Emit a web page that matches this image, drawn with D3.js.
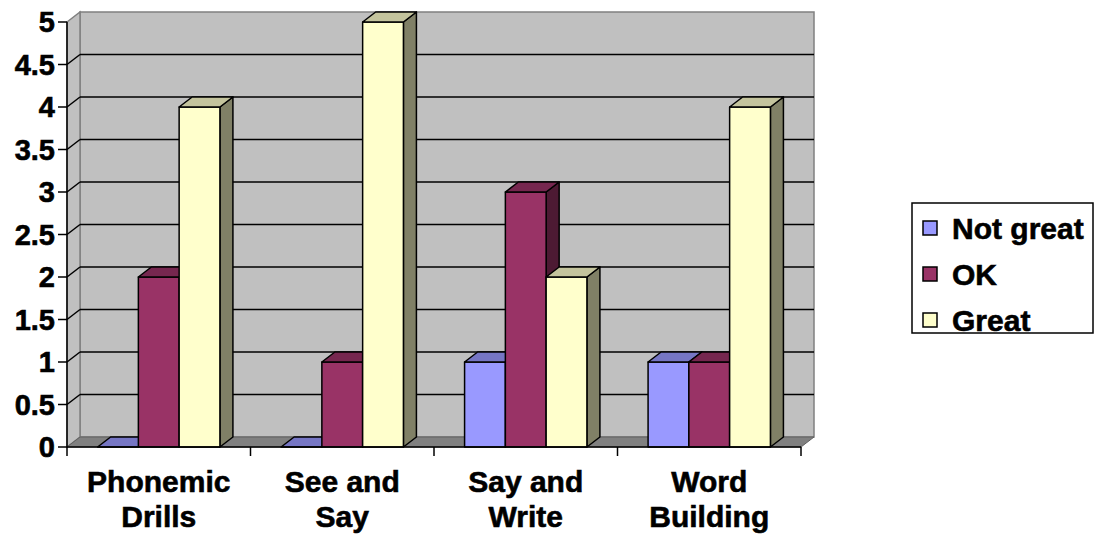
<!DOCTYPE html>
<html>
<head>
<meta charset="utf-8">
<script src="https://cdn.jsdelivr.net/npm/d3@7/dist/d3.min.js"></script>
<style>
  html, body { margin: 0; padding: 0; background: #fff; }
  svg { display: block; font-family: "Liberation Sans", Arial, sans-serif; font-weight: bold; }
  text { fill: #000; stroke: #000; stroke-width: 0.6px; }
</style>
</head>
<body>
<svg id="chart" width="1098" height="538"></svg>
<script>
// data
const categories = ['Phonemic Drills', 'See and Say', 'Say and Write', 'Word Building'];
const categoryLines = [['Phonemic', 'Drills'], ['See and', 'Say'], ['Say and', 'Write'], ['Word', 'Building']];
const seriesNames = ['Not great', 'OK', 'Great'];
const notGreat = [0, 0, 1, 1];
const ok = [2, 1, 3, 1];
const great = [4, 5, 2, 4];
const yTicks = [0, 0.5, 1, 1.5, 2, 2.5, 3, 3.5, 4, 4.5, 5];
const seriesColors = ['#9999FF', '#993366', '#FFFFCC'];

const seriesValues = [notGreat, ok, great];

const svg = d3.select('#chart');

// layout of the 3d box
const plotLeft = 67, plotRight = 801, plotTop = 22, plotBottom = 447;
const dx = 13, dy = -10;

const xScale = d3.scaleBand()
  .domain(categories)
  .range([plotLeft, plotRight])
  .paddingInner(0)
  .paddingOuter(0);

const xInner = d3.scaleBand()
  .domain(seriesNames)
  .range([0, xScale.bandwidth()])
  .paddingInner(0)
  .paddingOuter(0.75);

const yScale = d3.scaleLinear()
  .domain([0, 5])
  .range([plotBottom, plotTop]);

const shade = (c, k) => {
  const r = d3.rgb(c);
  return d3.rgb(r.r * k, r.g * k, r.b * k).formatHex();
};
const pts = arr => arr.map(p => p.join(',')).join(' ');

// walls
const g = svg.append('g');

// back wall
g.append('rect')
  .attr('x', plotLeft + dx).attr('y', plotTop + dy)
  .attr('width', plotRight - plotLeft).attr('height', plotBottom - plotTop)
  .attr('fill', '#C0C0C0')
  .attr('stroke', '#808080').attr('stroke-width', 1.5);

// side wall
g.append('polygon')
  .attr('points', pts([[plotLeft, plotTop], [plotLeft + dx, plotTop + dy], [plotLeft + dx, plotBottom + dy], [plotLeft, plotBottom]]))
  .attr('fill', '#C0C0C0')
  .attr('stroke', '#808080').attr('stroke-width', 1.5);

// floor
g.append('polygon')
  .attr('points', pts([[plotLeft, plotBottom], [plotLeft + dx, plotBottom + dy], [plotRight + dx, plotBottom + dy], [plotRight, plotBottom]]))
  .attr('fill', '#808080')
  .attr('stroke', '#606060').attr('stroke-width', 1);

// gridlines (back wall + side wall)
const grid = yTicks.filter(d => d > 0 && d < 5);
g.selectAll('.grid-back')
  .data(grid)
  .enter().append('line')
  .attr('class', 'grid-back')
  .attr('x1', plotLeft + dx).attr('x2', plotRight + dx)
  .attr('y1', d => yScale(d) + dy).attr('y2', d => yScale(d) + dy)
  .attr('stroke', '#000').attr('stroke-width', 1.5);

g.selectAll('.grid-side')
  .data(grid)
  .enter().append('line')
  .attr('class', 'grid-side')
  .attr('x1', plotLeft).attr('x2', plotLeft + dx)
  .attr('y1', d => yScale(d)).attr('y2', d => yScale(d) + dy)
  .attr('stroke', '#000').attr('stroke-width', 1.5);

// bars
const bars = svg.append('g');
categories.forEach((cat, i) => {
  seriesNames.forEach((s, j) => {
    const v = seriesValues[j][i];
    const x0 = xScale(cat) + xInner(s);
    const x1 = x0 + xInner.bandwidth();
    const y0 = yScale(0);
    const y1 = yScale(v);
    const col = seriesColors[j];
    const b = bars.append('g')
      .attr('stroke', '#000')
      .attr('stroke-width', 1.5)
      .attr('stroke-linejoin', 'round');
    if (v > 0) {
      b.append('polygon')
        .attr('points', pts([[x1, y1], [x1 + dx, y1 + dy], [x1 + dx, y0 + dy], [x1, y0]]))
        .attr('fill', shade(col, 0.5));
      b.append('rect')
        .attr('x', x0).attr('y', y1)
        .attr('width', x1 - x0).attr('height', y0 - y1)
        .attr('fill', col);
    }
    b.append('polygon')
      .attr('points', pts([[x0, y1], [x0 + dx, y1 + dy], [x1 + dx, y1 + dy], [x1, y1]]))
      .attr('fill', shade(col, 0.77));
  });
});

// axes
const axisG = svg.append('g');
axisG.append('line')
  .attr('x1', plotLeft).attr('x2', plotLeft)
  .attr('y1', plotTop).attr('y2', plotBottom)
  .attr('stroke', '#000').attr('stroke-width', 1.5);

axisG.selectAll('.ytick')
  .data(yTicks)
  .enter().append('line')
  .attr('class', 'ytick')
  .attr('x1', plotLeft - 9).attr('x2', plotLeft)
  .attr('y1', d => yScale(d)).attr('y2', d => yScale(d))
  .attr('stroke', '#000').attr('stroke-width', 1.5);

axisG.selectAll('.ylabel')
  .data(yTicks)
  .enter().append('text')
  .attr('class', 'ylabel')
  .attr('x', plotLeft - 12)
  .attr('y', d => yScale(d))
  .attr('dy', '0.36em')
  .attr('text-anchor', 'end')
  .style('font-size', '29px')
  .text(d => d3.format('~g')(d));

axisG.append('line')
  .attr('x1', plotLeft).attr('x2', plotRight)
  .attr('y1', plotBottom).attr('y2', plotBottom)
  .attr('stroke', '#000').attr('stroke-width', 1.5);

const boundaries = categories.map(c => xScale(c)).concat([plotRight]);
axisG.selectAll('.xtick')
  .data(boundaries)
  .enter().append('line')
  .attr('class', 'xtick')
  .attr('x1', d => d).attr('x2', d => d)
  .attr('y1', plotBottom).attr('y2', plotBottom + 9)
  .attr('stroke', '#000').attr('stroke-width', 1.5);

categories.forEach((cat, i) => {
  const cx = xScale(cat) + xScale.bandwidth() / 2;
  axisG.append('text')
    .attr('x', cx)
    .attr('text-anchor', 'middle')
    .style('font-size', '30px')
    .selectAll('tspan')
    .data(categoryLines[i])
    .enter().append('tspan')
    .attr('x', cx)
    .attr('y', (d, k) => 492 + k * 35)
    .text(d => d);
});

// legend
const legend = svg.append('g');
legend.append('rect')
  .attr('x', 912).attr('y', 203)
  .attr('width', 181).attr('height', 130)
  .attr('fill', '#fff')
  .attr('stroke', '#000').attr('stroke-width', 1.5);

const legendItems = legend.selectAll('.item')
  .data(seriesNames)
  .enter().append('g')
  .attr('class', 'item')
  .attr('transform', (d, i) => `translate(923, ${228 + i * 46})`);

legendItems.append('rect')
  .attr('x', 0).attr('y', -7)
  .attr('width', 14).attr('height', 14)
  .attr('fill', (d, i) => seriesColors[i])
  .attr('stroke', '#000').attr('stroke-width', 1.5);

legendItems.append('text')
  .attr('x', 29)
  .attr('y', 0)
  .attr('dy', '0.36em')
  .style('font-size', '30px')
  .text(d => d);
</script>
</body>
</html>
